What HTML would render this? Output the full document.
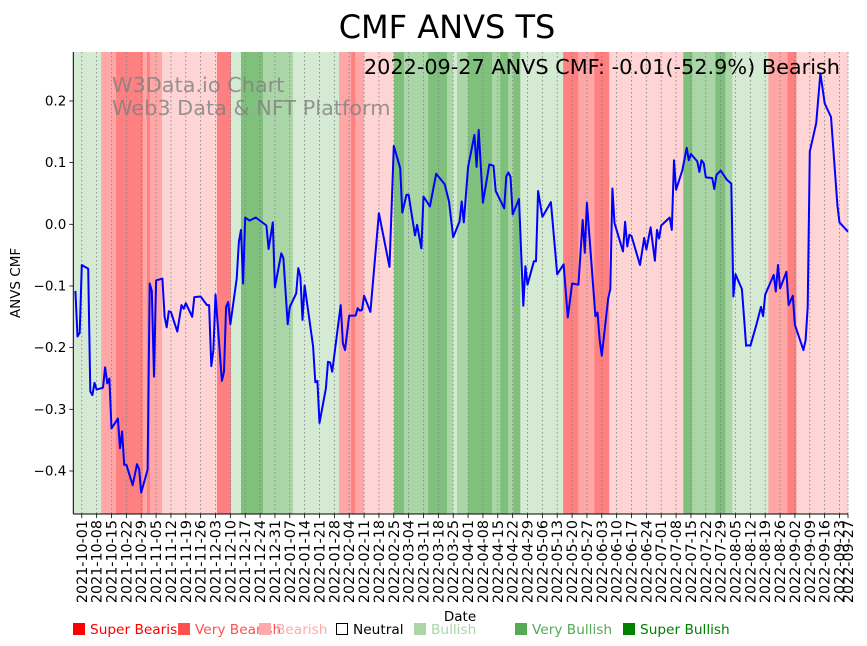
<!DOCTYPE html>
<html><head><meta charset="utf-8"><style>
html,body{margin:0;padding:0;background:#fff}
svg{display:block;font-family:"DejaVu Sans","Liberation Sans",sans-serif}
</style></head><body>
<svg id="chart" width="867" height="646" viewBox="0 0 867 646">
<text x="447" y="38" font-size="32" text-anchor="middle">CMF ANVS TS</text>
<g id="bands"></g>
<g id="grid"></g>
<text x="112" y="92" font-size="20.8" fill="#808080" fill-opacity="0.8">W3Data.io Chart</text>
<text x="112" y="115" font-size="20.8" fill="#808080" fill-opacity="0.8">Web3 Data &amp; NFT Platform</text>
<path id="line" fill="none" stroke="#0000ff" stroke-width="2" stroke-linejoin="round"/>
<text x="840" y="74" font-size="20.8" text-anchor="end">2022-09-27 ANVS CMF: -0.01(-52.9%) Bearish</text>
<g id="yaxis"></g>
<g id="xaxis"></g>
<text transform="translate(20,283) rotate(-90)" font-size="13.5" text-anchor="middle">ANVS CMF</text>
<text x="460" y="621" font-size="13.5" text-anchor="middle">Date</text>
<g id="legend"></g>
</svg>
<script>
const dayOffsets=[-3,-2,-1,0,3,4,5,6,7,10,11,12,13,14,17,18,19,20,21,24,26,27,28,31,32,33,34,35,38,39,40,41,42,45,47,48,49,52,53,56,59,60,61,62,63,66,67,68,69,70,73,74,75,76,77,79,82,87,88,90,91,94,95,97,98,101,102,103,104,105,109,110,111,112,115,116,117,118,122,123,124,126,129,130,131,132,133,136,140,145,147,150,151,153,154,157,158,160,161,164,167,171,173,175,178,179,180,182,185,186,187,189,192,194,195,199,200,201,202,203,206,208,209,210,213,214,215,217,221,224,227,229,231,234,236,237,238,242,243,244,245,248,249,250,251,255,256,257,258,259,263,265,266,268,270,271,272,273,277,278,279,280,283,285,286,287,290,291,292,293,294,297,298,299,301,304,306,307,308,311,312,313,314,315,318,320,321,322,326,327,328,329,332,333,335,336,340,341,342,343,346,348,350,353,356,357,361];
const cmfValues=[-0.108,-0.182,-0.176,-0.066,-0.072,-0.271,-0.277,-0.257,-0.268,-0.265,-0.232,-0.258,-0.250,-0.331,-0.315,-0.363,-0.336,-0.390,-0.390,-0.423,-0.389,-0.397,-0.435,-0.398,-0.096,-0.108,-0.247,-0.091,-0.088,-0.150,-0.167,-0.141,-0.142,-0.174,-0.131,-0.137,-0.128,-0.150,-0.118,-0.117,-0.131,-0.131,-0.230,-0.204,-0.114,-0.254,-0.239,-0.134,-0.126,-0.162,-0.088,-0.028,-0.009,-0.096,0.011,0.006,0.011,-0.002,-0.040,0.003,-0.102,-0.047,-0.055,-0.162,-0.134,-0.112,-0.071,-0.085,-0.155,-0.099,-0.198,-0.256,-0.254,-0.322,-0.266,-0.223,-0.224,-0.239,-0.131,-0.193,-0.204,-0.148,-0.148,-0.136,-0.140,-0.139,-0.116,-0.142,0.018,-0.069,0.127,0.091,0.019,0.048,0.048,-0.018,-0.001,-0.039,0.045,0.029,0.082,0.065,0.037,-0.021,0.005,0.037,0.003,0.093,0.145,0.093,0.153,0.035,0.097,0.095,0.054,0.026,0.078,0.084,0.077,0.016,0.041,-0.132,-0.068,-0.098,-0.060,-0.060,0.054,0.012,0.036,-0.081,-0.065,-0.151,-0.096,-0.098,0.007,-0.046,0.035,-0.149,-0.143,-0.188,-0.213,-0.120,-0.105,0.058,0.002,-0.044,0.004,-0.036,-0.017,-0.019,-0.066,-0.022,-0.041,-0.005,-0.059,-0.009,-0.023,-0.002,0.011,-0.009,0.104,0.056,0.088,0.124,0.104,0.114,0.102,0.085,0.104,0.099,0.076,0.075,0.057,0.080,0.087,0.072,0.066,-0.117,-0.081,-0.105,-0.150,-0.197,-0.196,-0.197,-0.161,-0.134,-0.149,-0.114,-0.082,-0.109,-0.066,-0.104,-0.077,-0.131,-0.116,-0.163,-0.204,-0.188,-0.134,0.118,0.164,0.245,0.196,0.174,0.031,0.003,-0.012];
const bandStarts=[-4,9.1,16.1,28.8,30.7,32.1,37.8,63.7,70.3,75,85.4,99.5,121.2,126.9,128.8,133,147.1,151.8,163.2,172.1,174.9,176.8,182,193.3,197.1,200.9,203.3,206.6,226.8,233.9,241.5,248.5,283.4,287.6,298.5,303.2,306.5,323.5,332.5,336.7];
const bandEnds=[9.1,16.1,28.8,30.7,32.1,37.8,63.7,70.3,75,85.4,99.5,121.2,126.9,128.8,133,147.1,151.8,163.2,172.1,174.9,176.8,182,193.3,197.1,200.9,203.3,206.6,226.8,233.9,241.5,248.5,283.4,287.6,298.5,303.2,306.5,323.5,332.5,336.7,361];
const bandLevels=[1,-2,-3,-2,-3,-2,-1,-3,1,3,2,1,-2,-3,-2,-1,3,2,3,2,1,2,3,2,3,2,3,1,-3,-2,-3,-1,3,2,3,2,1,-2,-3,-1];
const yTicks=[0.2,0.1,0.0,-0.1,-0.2,-0.3,-0.4];
const tickLabels=[];
const tickDays=[];
(function(){const s=Date.UTC(2021,9,1);for(let k=0;k<=51;k++){const d=new Date(s+k*7*864e5);tickLabels.push(d.toISOString().slice(0,10));tickDays.push(k*7);}tickLabels.push('2022-09-27');tickDays.push(361);})();

const L=73.3,R=848,T=52,B=514,D0=-4,D1=361;
const X=d=>L+(d-D0)/(D1-D0)*(R-L);
const Y=v=>224.3-v*616.7;
const NS='http://www.w3.org/2000/svg';
function mk(t,p,parent){const e=document.createElementNS(NS,t);for(const k in p)e.setAttribute(k,p[k]);parent.appendChild(e);return e;}
const colors={'-3':'#ff8080','-2':'#ffa6a6','-1':'#ffd4d4','1':'#d5ead3','2':'#aad5a6','3':'#80c07d'};
const bg=document.getElementById('bands');
bandStarts.forEach((s,i)=>{const r=mk('rect',{x:X(s),y:T,width:X(bandEnds[i])-X(s)+0.3,height:B-T,fill:colors[bandLevels[i]]},bg);

});
const gg=document.getElementById('grid');
const xa=document.getElementById('xaxis');
tickDays.forEach((d,i)=>{const x=X(d);
const g=mk('line',{x1:x,x2:x,y1:T,y2:B,stroke:'#808080','stroke-width':0.8,'stroke-dasharray':'1.5,2.5'},gg);


mk('line',{x1:x,x2:x,y1:B,y2:B+4,stroke:'#000','stroke-width':0.8},xa);
const t=mk('text',{transform:`translate(${x+5},${B+6}) rotate(-90)`,'font-size':14.3,'text-anchor':'end'},xa);
t.textContent=tickLabels[i];

});
let dstr='';dayOffsets.forEach((d,i)=>{dstr+=(i?'L':'M')+X(d).toFixed(1)+','+Y(cmfValues[i]).toFixed(1);});
document.getElementById('line').setAttribute('d',dstr);
const ya=document.getElementById('yaxis');
mk('line',{x1:L,x2:L,y1:T,y2:B,stroke:'#000','stroke-width':1},ya);
mk('line',{x1:L,x2:R,y1:B,y2:B,stroke:'#000','stroke-width':1},xa);
yTicks.forEach(v=>{const y=Y(v);mk('line',{x1:L-4,x2:L,y1:y,y2:y,stroke:'#000','stroke-width':0.8},ya);
const t=mk('text',{x:L-7,y:y+4.5,'font-size':13.5,'text-anchor':'end'},ya);
t.textContent=(v<0?'\u2212':'')+Math.abs(v).toFixed(1);

});
const legNames=['Super Bearish','Very Bearish','Bearish','Neutral','Bullish','Very Bullish','Super Bullish'];
const legX=[73,178,259,336,414,515,623];
const legCol=['#ff0000','#ff5050','#ffaaaa',null,'#aad5a6','#55aa55','#008000'];
const lg=document.getElementById('legend');
legNames.forEach((n,i)=>{const g=mk('g',{},lg);


if(legCol[i])mk('rect',{x:legX[i],y:623,width:12,height:12,fill:legCol[i]},g);
else mk('rect',{x:legX[i]+0.5,y:623.5,width:11,height:11,fill:'none',stroke:'#000'},g);
const t=mk('text',{x:legX[i]+17,y:634,'font-size':13.7,fill:legCol[i]||'#000'},g);t.textContent=n;});
</script>
</body></html>
